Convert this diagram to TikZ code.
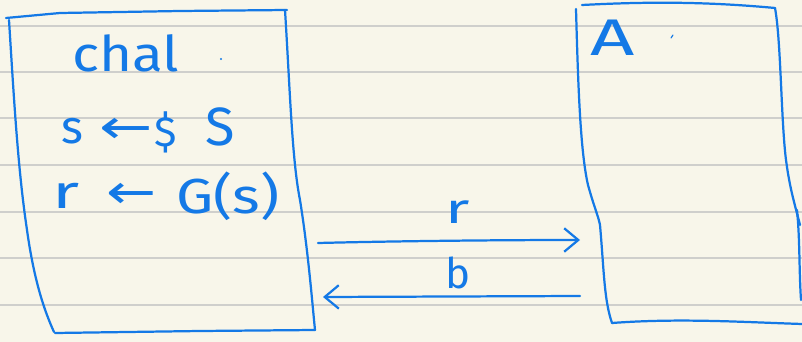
\documentclass[tikz,border=0pt]{standalone}
\usepackage{fontspec}
\setmainfont{Fira Sans}
\newfontfamily\arrowfont{DejaVu Sans}
\usetikzlibrary{arrows.meta}
\definecolor{paper}{HTML}{F8F6EA}
\definecolor{rule}{HTML}{CFCFCC}
\definecolor{ink}{HTML}{1479E6}
\tikzset{
  pen/.style={draw=ink, line width=1.9pt, line cap=round, line join=round},
  hand/.style={text=ink, inner sep=0pt, font=\fontsize{#1}{#1}\selectfont},
  msg/.style={pen, -{Straight Barb[length=12pt,width=20pt,line width=1.9pt]}},
}
\begin{document}
\begin{tikzpicture}[x=0.03cm,y=-0.03cm]
\fill[paper] (0,0) rectangle (802,342);
\useasboundingbox (0,0) rectangle (802,342);
% ruled paper lines
\foreach \yy in {26,72,118,165,212,258,305}
  \draw[rule, line width=1.5pt] (0,\yy) -- (802,\yy);

% left box (challenger)
\draw[pen] (6,18) -- (60,13) -- (180,11) -- (287,10);
\draw[pen] (285,10) .. controls (290,90) and (292,160) .. (300,200) .. controls (308,250) and (312,300) .. (315,330);
\draw[pen] (55,333) -- (200,331) -- (315,330);
\draw[pen] (9,20) .. controls (14,100) and (18,170) .. (27,230) .. controls (34,280) and (44,310) .. (54,332);
\coordinate (chalR) at (318,243);
\coordinate (chalL) at (323,297);

% right box (adversary)
\draw[pen] (582,5) .. controls (640,2) and (700,1) .. (775,8);
\draw[pen] (576,9) .. controls (578,80) and (580,150) .. (588,185) .. controls (595,210) and (598,215) .. (600,225) .. controls (604,270) and (604,300) .. (612,323);
\draw[pen] (775,8) .. controls (781,40) and (781,120) .. (786,160) .. controls (790,190) and (795,205) .. (800,225);
\draw[pen] (612,323) .. controls (680,318) and (740,322) .. (802,324);
\draw[pen] (797,210) .. controls (800,240) and (799,270) .. (801,300);
\coordinate (advL) at (580,240);
\coordinate (advR) at (580,296);

% small stray marks
\fill[ink] (221,59) circle (1pt);
\draw[pen, line width=1pt] (671,38) -- (673,35);

% texts
\node[hand=42, xscale=1.15] (chal) at (126,53) {chal};
% s <-$ S
\node[hand=40] (s1) at (72,131) {s};
\node[hand=34] (a1) at (126,131) {\arrowfont\scalebox{1.6}[1.2]{←}};
\node[hand=36] (dol) at (166,132) {\$};
\node[hand=46] (bigS) at (220,127) {S};
% r <- G(s)
\node[hand=40, xscale=1.5] (r1) at (66,196) {r};
\node[hand=34] (a2) at (132,196) {\arrowfont\scalebox{1.5}[1.2]{←}};
\node[hand=42, xscale=1.2] (gs) at (228,196) {G(s)};
% adversary
\node[hand=44, xscale=1.5] (adv) at (613,38) {A};

% messages
\draw[msg] (chalR) .. controls (400,241) and (500,240) .. (advL);
\node[hand=36, xscale=1.5] (lr) at (458,212) {r};
\draw[msg] (advR) -- (chalL);
\node[hand=36] (lb) at (458,273) {b};
\end{tikzpicture}
\end{document}
